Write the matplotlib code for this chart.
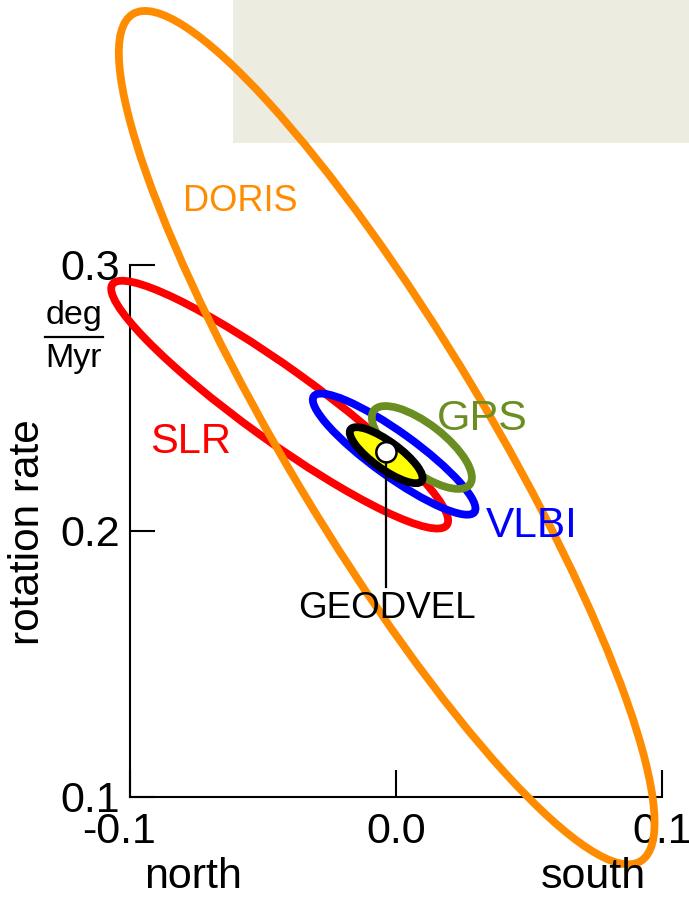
import matplotlib
matplotlib.use("Agg")
import matplotlib.pyplot as plt
import matplotlib.transforms as mtransforms
from matplotlib.patches import Ellipse, Circle, Rectangle

plt.rcParams['font.family'] = ['Liberation Sans', 'DejaVu Sans']
plt.rcParams['axes.unicode_minus'] = False

# error ellipses: name, centre (x, y), full width, full height, angle (deg)
names = ['DORIS', 'SLR', 'VLBI', 'GPS', 'GEODVEL']
center_x = [-0.0034, -0.0436, -0.0006, 0.0098, -0.0036]
center_y = [0.2351, 0.2475, 0.2289, 0.2314, 0.2285]
widths = [0.3712, 0.1548, 0.0744, 0.0455, 0.0330]
heights = [0.0751, 0.0270, 0.0165, 0.0177, 0.0102]
angles = [-59.1, -35.8, -35.8, -37.7, -36.0]
colors = ['#FF8C00', '#FF0000', '#0000FF', '#6B8E23', '#000000']
fills = ['none', 'none', 'none', 'none', '#FFFF00']
zorders = [8, 3, 4, 5, 6]

# GEODVEL best estimate
geodvel_x = -0.0035
geodvel_y = 0.2296
pointer_end_y = 0.1788

x_ticks = [-0.1, 0.0, 0.1]
x_ticklabels = ['-0.1', '0.0', '0.1']
y_ticks = [0.1, 0.2, 0.3]
y_ticklabels = ['0.1', '0.2', '0.3']

W, H = 689, 899
fig = plt.figure(figsize=(W / 100, H / 100), dpi=100)

def fx(px):
    return px / W

def fy(py):
    return 1 - py / H

# beige block in the upper right corner
fig.add_artist(Rectangle((fx(233), fy(143)), 1 - fx(233), 143 / H,
                         transform=fig.transFigure, facecolor='#ECECE0',
                         edgecolor='none', zorder=-5))

ax = fig.add_axes([fx(129.5), fy(797), (662 - 129.5) / W, (797 - 265) / H])
ax.patch.set_visible(False)
ax.set_xlim(-0.1, 0.1)
ax.set_ylim(0.1, 0.3)

for s in ['top', 'right']:
    ax.spines[s].set_visible(False)
for s in ['left', 'bottom']:
    ax.spines[s].set_linewidth(1.5)

ax.set_xticks(x_ticks)
ax.set_xticklabels(x_ticklabels)
ax.set_yticks(y_ticks)
ax.set_yticklabels(y_ticklabels)
ax.tick_params(axis='x', direction='in', length=19.5, width=1.5,
               labelsize=31, pad=11)
ax.tick_params(axis='y', direction='in', length=18, width=1.5,
               labelsize=31, pad=6.5)

# the "-0.1" label sits a bit left of its tick
lab = ax.get_xticklabels()[0]
lab.set_transform(lab.get_transform() +
                  mtransforms.ScaledTranslation(-10 / 100, 0, fig.dpi_scale_trans))

for i in range(len(names)):
    e = Ellipse((center_x[i], center_y[i]), widths[i], heights[i],
                angle=angles[i], facecolor=fills[i], edgecolor=colors[i],
                linewidth=5.6, clip_on=False, zorder=zorders[i])
    ax.add_patch(e)

# pointer and white dot for GEODVEL
ax.plot([geodvel_x, geodvel_x], [geodvel_y, pointer_end_y], color='black',
        linewidth=1.6, clip_on=False, zorder=6.5)
ax.add_patch(Circle((geodvel_x, geodvel_y), 0.0038, facecolor='white',
                    edgecolor='black', linewidth=1.8, clip_on=False, zorder=7))

# series labels
fig.text(fx(240), fy(211), 'DORIS', color=colors[0], fontsize=26,
         ha='center', va='baseline', zorder=7)
fig.text(fx(191), fy(453), 'SLR', color=colors[1], fontsize=30,
         ha='center', va='baseline', zorder=7)
fig.text(fx(532), fy(537), 'VLBI', color=colors[2], fontsize=30.5,
         ha='center', va='baseline', zorder=7)
fig.text(fx(482.5), fy(430), 'GPS', color=colors[3], fontsize=31,
         ha='center', va='baseline', zorder=7)
fig.text(fx(387), fy(618), 'GEODVEL', color='black', fontsize=26.5,
         ha='center', va='baseline', zorder=7)

# axis texts
fig.text(fx(193), fy(888), 'north', fontsize=31, ha='center', va='baseline')
fig.text(fx(593), fy(888), 'south', fontsize=31, ha='center', va='baseline')
fig.text(fx(28.5), fy(532), 'rotation rate', fontsize=30.5, rotation=90,
         ha='center', va='center')
fig.text(fx(74), fy(324), 'deg', fontsize=24.5, ha='center', va='baseline')
fig.text(fx(74), fy(367), 'Myr', fontsize=24.5, ha='center', va='baseline')
fig.add_artist(plt.Line2D([fx(45), fx(103)], [fy(337), fy(337)],
                          color='black', linewidth=1.6,
                          transform=fig.transFigure))

fig.savefig('out.png', dpi=100)
